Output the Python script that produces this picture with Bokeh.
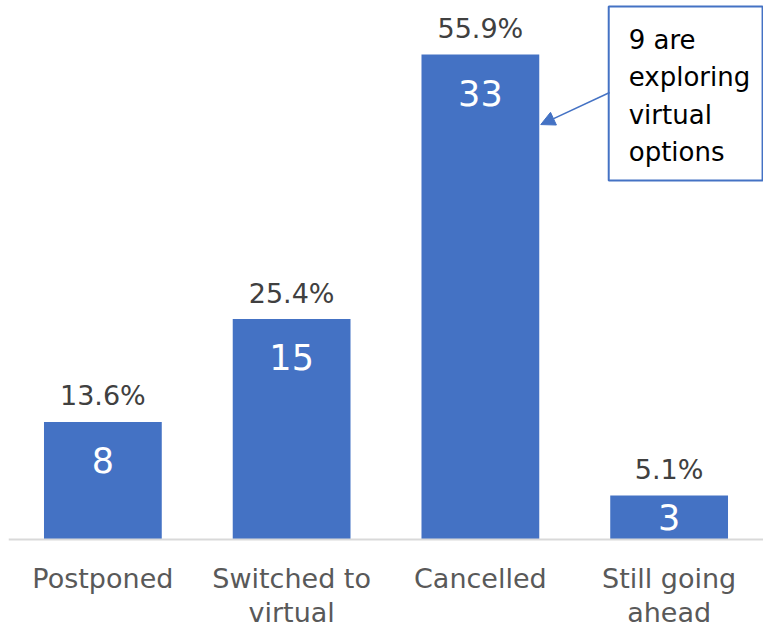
from bokeh.plotting import figure
from bokeh.models import FactorRange, ColumnDataSource, BoxAnnotation, Arrow, NormalHead, Span
from bokeh.core.properties import value
from bokeh.embed import file_html
from bokeh.resources import INLINE

categories = ["Postponed", "Switched to\nvirtual", "Cancelled", "Still going\nahead"]
counts = [8, 15, 33, 3]
percents = ["13.6%", "25.4%", "55.9%", "5.1%"]
note_lines = ["9 are", "exploring", "virtual", "options"]

FONT = "DejaVu Sans"
BLUE = "#4472C4"

p = figure(x_range=FactorRange(factors=categories, range_padding=0),
           y_range=(-6.12, 36.67), width=763, height=629,
           output_backend="svg", toolbar_location=None,
           min_border_left=8, min_border_right=0, min_border_top=0,
           min_border_bottom=0, x_axis_location=None, y_axis_location=None)
p.outline_line_color = None
p.grid.visible = False

src = ColumnDataSource(dict(
    cat=categories, count=counts, pct=percents,
    inner_y=[max(c - 2.6, c / 2) for c in counts],
    count_txt=[str(c) for c in counts],
    label_y=[-1.62] * len(categories)))

p.vbar(x="cat", top="count", width=0.624, source=src, color=BLUE, line_color=None)
p.text(x="cat", y="count", text="pct", source=src, y_offset=-26,
       text_align="center", text_baseline="middle", text_font=value(FONT),
       text_font_size="27px", text_color="#404040")
p.text(x="cat", y="inner_y", text="count_txt", source=src,
       text_align="center", text_baseline="middle", text_font=value(FONT),
       text_font_size="35px", text_color="white")

# category axis: baseline line and labels
p.add_layout(Span(location=0, dimension="width", line_color="#D9D9D9", line_width=2))
p.text(x="cat", y="label_y", text="cat", source=src,
       text_align="center", text_baseline="top",
       text_font=value(FONT), text_font_size="27px",
       text_color="#595959", text_line_height=1.08)

# callout box
p.add_layout(BoxAnnotation(left=3.18, right=3.995, top=36.26, bottom=24.42,
                           fill_alpha=0, line_alpha=1.0,
                           line_color=BLUE, line_width=2))
note_y = [34.01, 31.46, 28.91, 26.39]
p.text(x=[3.286] * 4, y=note_y, text=note_lines, text_align="left",
       text_baseline="alphabetic", text_font=value(FONT),
       text_font_size="26px", text_color="black")
p.add_layout(Arrow(x_start=3.185, y_start=30.41, x_end=2.82, y_end=28.23,
                   line_color=BLUE, line_width=1.5,
                   end=NormalHead(size=14, fill_color=BLUE, line_color=BLUE)))

open("out.html", "w").write(file_html(p, INLINE))
